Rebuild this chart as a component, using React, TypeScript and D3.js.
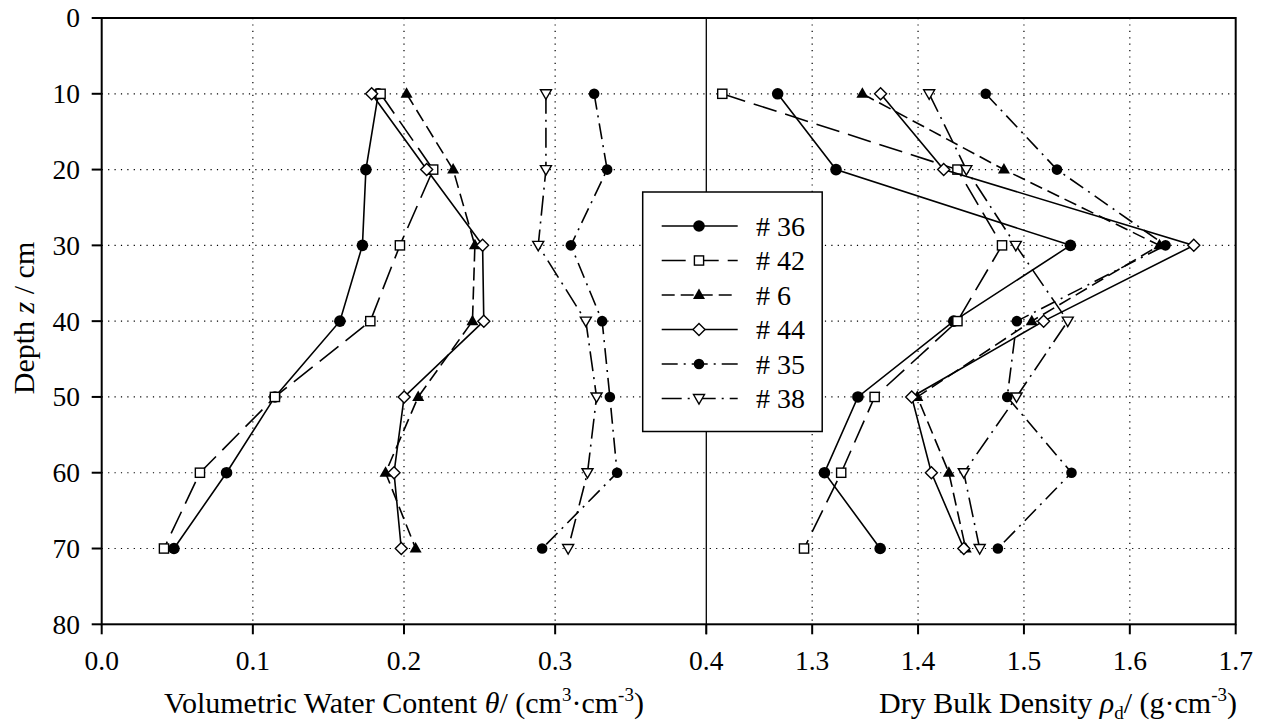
import React from "react";
import * as d3 from "d3";

const depths = [10, 20, 30, 40, 50, 60, 70];
const seriesNames = ["# 36", "# 42", "# 6", "# 44", "# 35", "# 38"];
// volumetric water content (cm3/cm3)
const theta36 = [0.183, 0.1748, 0.1725, 0.1576, 0.1146, 0.0826, 0.0478];
const theta42 = [0.1845, 0.2193, 0.1973, 0.1777, 0.1146, 0.065, 0.0412];
const theta6 = [0.2017, 0.2325, 0.2469, 0.2453, 0.2094, 0.1878, 0.2077];
const theta44 = [0.1786, 0.215, 0.252, 0.2528, 0.2001, 0.1934, 0.1982];
const theta35 = [0.3258, 0.3344, 0.3104, 0.3311, 0.3362, 0.341, 0.2914];
const theta38 = [0.2939, 0.2939, 0.2888, 0.3203, 0.3274, 0.3214, 0.3086];
// dry bulk density (g/cm3)
const rho36 = [1.2674, 1.3225, 1.5439, 1.4337, 1.3432, 1.3116, 1.3642];
const rho42 = [1.2151, 1.4372, 1.4793, 1.4372, 1.359, 1.3274, 1.2923];
const rho6 = [1.3474, 1.4811, 1.628, 1.5074, 1.3993, 1.4291, 1.445];
const rho44 = [1.3646, 1.4242, 1.6604, 1.5186, 1.394, 1.4126, 1.4432];
const rho35 = [1.4639, 1.5312, 1.6337, 1.4933, 1.4842, 1.5449, 1.4754];
const rho38 = [1.4105, 1.4456, 1.4923, 1.5414, 1.493, 1.4432, 1.4582];

const yTicks = [0, 10, 20, 30, 40, 50, 60, 70, 80];
const thetaTicks = [0.0, 0.1, 0.2, 0.3, 0.4];
const rhoTicks = [1.3, 1.4, 1.5, 1.6, 1.7];

const thetaSeries = [theta36, theta42, theta6, theta44, theta35, theta38];
const rhoSeries = [rho36, rho42, rho6, rho44, rho35, rho38];
const markers = ["circle", "square", "triangle", "diamond", "circleS", "tridown"];
const dashes = ["none", "24,9", "13,6", "none", "16,6,2,6", "20,6,2,6"];

const FONT = "'Liberation Serif', 'Times New Roman', serif";

const xL = d3.scaleLinear().domain([0, 0.4]).range([101.7, 706.3]);
const xR = d3.scaleLinear().domain([1.2, 1.7]).range([706.3, 1235.7]);
const y = d3.scaleLinear().domain([0, 80]).range([18, 624.3]);

function Marker({ type, cx, cy }: { type: string; cx: number; cy: number }) {
  const sw = 1.4;
  switch (type) {
    case "circle":
      return <circle cx={cx} cy={cy} r={5.8} fill="#000" />;
    case "circleS":
      return <circle cx={cx} cy={cy} r={5.3} fill="#000" />;
    case "square":
      return <rect x={cx - 4.6} y={cy - 4.6} width={9.2} height={9.2} fill="#fff" stroke="#000" strokeWidth={sw} />;
    case "triangle":
      return <path d={`M${cx},${cy - 6.5}L${cx + 6},${cy + 4}L${cx - 6},${cy + 4}Z`} fill="#000" />;
    case "diamond":
      return <path d={`M${cx},${cy - 6}L${cx + 6},${cy}L${cx},${cy + 6}L${cx - 6},${cy}Z`} fill="#fff" stroke="#000" strokeWidth={sw} />;
    case "tridown":
      return <path d={`M${cx - 5.5},${cy - 4}L${cx + 5.5},${cy - 4}L${cx},${cy + 5.5}Z`} fill="#fff" stroke="#000" strokeWidth={sw} />;
  }
  return null;
}

export default function App() {
  const line = d3.line<[number, number]>().x((d) => d[0]).y((d) => d[1]);
  const left = 101.7, right = 1235.7, top = 18, bottom = 624.3, mid = 706.3;

  const renderSeries = (vals: number[][], sx: (v: number) => number, key: string) =>
    vals.map((s, i) => {
      const pts: [number, number][] = s.map((v, j) => [sx(v), y(depths[j])]);
      return (
        <g key={key + i}>
          <path d={line(pts) || ""} fill="none" stroke="#000" strokeWidth={1.6} strokeDasharray={dashes[i]} />
          {pts.map((p, j) => (
            <Marker key={j} type={markers[i]} cx={p[0]} cy={p[1]} />
          ))}
        </g>
      );
    });

  const legX = 642.7, legY = 192, legW = 179.5, legH = 239.5;
  const rowY = (i: number) => 226 + i * 34.5;

  return (
    <svg width={1263} height={724} style={{ position: "absolute", left: 0, top: 0, background: "#fff" }} fontFamily={FONT}>
      <rect x={0} y={0} width={1263} height={724} fill="#fff" />
      {/* grid */}
      {depths.map((d) => (
        <line key={"hg" + d} x1={left} x2={right} y1={y(d)} y2={y(d)} stroke="#000" strokeWidth={1.2} strokeDasharray="1.2,5.2" />
      ))}
      {[0.1, 0.2, 0.3].map((t) => (
        <line key={"vgl" + t} x1={xL(t)} x2={xL(t)} y1={top} y2={bottom} stroke="#000" strokeWidth={1.2} strokeDasharray="1.2,5.2" />
      ))}
      {[1.3, 1.4, 1.5, 1.6].map((t) => (
        <line key={"vgr" + t} x1={xR(t)} x2={xR(t)} y1={top} y2={bottom} stroke="#000" strokeWidth={1.2} strokeDasharray="1.2,5.2" />
      ))}
      {/* separator */}
      <line x1={mid} x2={mid} y1={top} y2={bottom + 10} stroke="#000" strokeWidth={1.3} />
      {/* series */}
      {renderSeries(thetaSeries, xL, "t")}
      {renderSeries(rhoSeries, xR, "r")}
      {/* frame */}
      <rect x={left} y={top} width={right - left} height={bottom - top} fill="none" stroke="#000" strokeWidth={2} />
      {/* y ticks */}
      {yTicks.map((t) => (
        <g key={"yt" + t}>
          <line x1={left - 10} x2={left} y1={y(t)} y2={y(t)} stroke="#000" strokeWidth={2} />
          <text x={80} y={y(t)} dy="0.34em" textAnchor="end" fontSize={27.5}>
            {t}
          </text>
        </g>
      ))}
      {/* x ticks */}
      {thetaTicks.map((t) => (
        <g key={"xt" + t}>
          <line x1={xL(t)} x2={xL(t)} y1={bottom} y2={bottom + 10} stroke="#000" strokeWidth={2} />
          <text x={xL(t)} y={670} textAnchor="middle" fontSize={27.5}>
            {t.toFixed(1)}
          </text>
        </g>
      ))}
      {rhoTicks.map((t) => (
        <g key={"xr" + t}>
          <line x1={xR(t)} x2={xR(t)} y1={bottom} y2={bottom + 10} stroke="#000" strokeWidth={2} />
          <text x={xR(t)} y={670} textAnchor="middle" fontSize={27.5}>
            {t.toFixed(1)}
          </text>
        </g>
      ))}
      {/* axis titles */}
      <text transform="translate(34,318) rotate(-90)" textAnchor="middle" fontSize={30}>
        Depth <tspan fontStyle="italic">z</tspan> / cm
      </text>
      <text x={404} y={713} textAnchor="middle" fontSize={30}>
        Volumetric Water Content <tspan fontStyle="italic">θ</tspan>/ (cm<tspan fontSize={19} dy={-12}>3</tspan>
        <tspan dy={12}>·cm</tspan>
        <tspan fontSize={19} dy={-12}>-3</tspan>
        <tspan dy={12}>)</tspan>
      </text>
      <text x={1058} y={713} textAnchor="middle" fontSize={30}>
        Dry Bulk Density <tspan fontStyle="italic">ρ</tspan>
        <tspan fontSize={19} dy={6}>d</tspan>
        <tspan dy={-6}>/ (g·cm</tspan>
        <tspan fontSize={19} dy={-12}>-3</tspan>
        <tspan dy={12}>)</tspan>
      </text>
      {/* legend */}
      <rect x={legX} y={legY} width={legW} height={legH} fill="#fff" stroke="#000" strokeWidth={1.5} />
      {seriesNames.map((n, i) => (
        <g key={"lg" + i}>
          <line x1={661.7} x2={737.7} y1={rowY(i)} y2={rowY(i)} stroke="#000" strokeWidth={1.6} strokeDasharray={dashes[i]} />
          <Marker type={markers[i]} cx={699} cy={rowY(i)} />
          <text x={756} y={rowY(i)} dy="0.35em" fontSize={28}>
            {n}
          </text>
        </g>
      ))}
    </svg>
  );
}
